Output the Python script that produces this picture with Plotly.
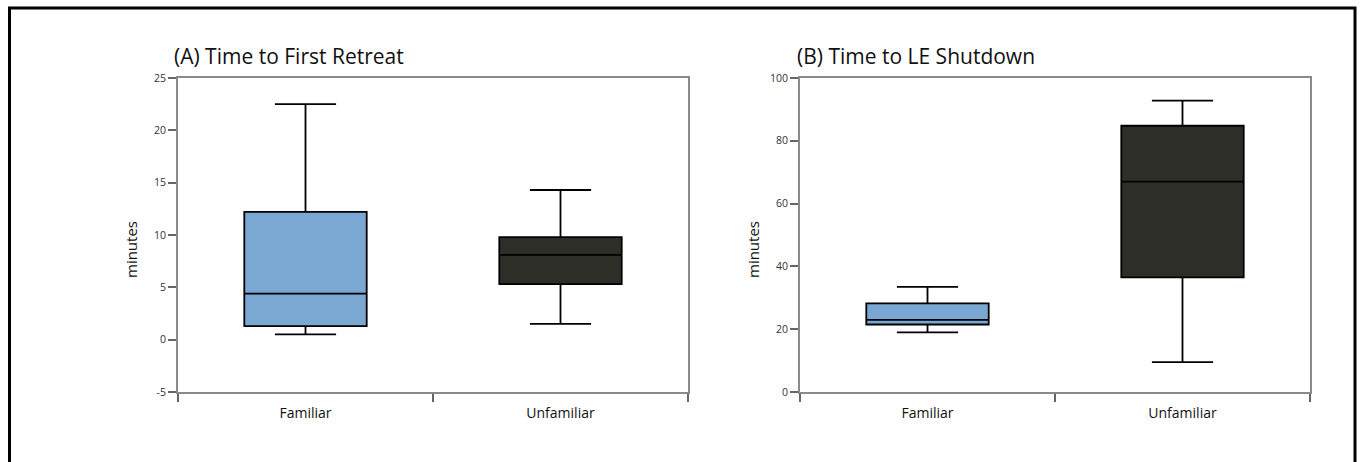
import plotly.graph_objects as go

W, H = 1362, 462

categories = ["Familiar", "Unfamiliar"]

# Panel A: Time to First Retreat (minutes)
a_lower = [0.5, 1.5]
a_q1 = [1.3, 5.3]
a_median = [4.4, 8.1]
a_q3 = [12.2, 9.8]
a_upper = [22.5, 14.3]

# Panel B: Time to LE Shutdown (minutes)
b_lower = [19.0, 9.5]
b_q1 = [21.5, 36.5]
b_median = [23.0, 67.0]
b_q3 = [28.2, 84.8]
b_upper = [33.5, 92.8]

fill_colors = ["#7BA7D3", "#2E2E29"]

a_yticks = [-5, 0, 5, 10, 15, 20, 25]
a_yticklabels = ["-5", "0", "5", "10", "15", "20", "25"]
b_yticks = [0, 20, 40, 60, 80, 100]
b_yticklabels = ["0", "20", "40", "60", "80", "100"]


def px_x(x):
    return x / W


def px_y(y):
    return 1 - y / H


fig = go.Figure()

for i, cat in enumerate(categories):
    fig.add_trace(go.Box(
        x=[cat], q1=[a_q1[i]], median=[a_median[i]], q3=[a_q3[i]],
        lowerfence=[a_lower[i]], upperfence=[a_upper[i]],
        fillcolor=fill_colors[i], line=dict(color="#000000", width=1.8),
        width=0.48, whiskerwidth=0.5, boxpoints=False, showlegend=False,
        xaxis="x", yaxis="y", hoverinfo="skip",
    ))
    fig.add_trace(go.Box(
        x=[cat], q1=[b_q1[i]], median=[b_median[i]], q3=[b_q3[i]],
        lowerfence=[b_lower[i]], upperfence=[b_upper[i]],
        fillcolor=fill_colors[i], line=dict(color="#000000", width=1.8),
        width=0.48, whiskerwidth=0.5, boxpoints=False, showlegend=False,
        xaxis="x2", yaxis="y2", hoverinfo="skip",
    ))

y_dom = [px_y(392), px_y(78)]

xaxis_common = dict(
    type="category", categoryorder="array", categoryarray=categories,
    range=[-0.5, 1.5], tickson="boundaries", ticks="outside", ticklen=8,
    tickcolor="#666666", tickwidth=1.5,
    showline=True, linecolor="#8A8A8A", linewidth=2, mirror=True,
    showgrid=False, zeroline=False, automargin=False,
    ticklabelstandoff=7,
    tickfont=dict(family="Open Sans", size=14, color="#111111"),
)
yaxis_common = dict(
    ticks="outside", ticklen=8, tickcolor="#666666", tickwidth=1.5,
    showline=True, linecolor="#8A8A8A", linewidth=2, mirror=True,
    showgrid=False, zeroline=False, automargin=False,
    tickfont=dict(family="Open Sans", size=10.5, color="#333333"),
)

fig.update_layout(
    width=W, height=H,
    margin=dict(l=0, r=0, t=0, b=0),
    paper_bgcolor="white", plot_bgcolor="white",
    xaxis=dict(domain=[px_x(178), px_x(688)], anchor="y", **xaxis_common),
    yaxis=dict(domain=y_dom, anchor="x", range=[-5, 25], tickvals=a_yticks,
               ticktext=a_yticklabels, **yaxis_common),
    xaxis2=dict(domain=[px_x(800), px_x(1310)], anchor="y2", **xaxis_common),
    yaxis2=dict(domain=y_dom, anchor="x2", range=[0, 100], tickvals=b_yticks,
                ticktext=b_yticklabels, **yaxis_common),
    shapes=[dict(
        type="rect", xref="paper", yref="paper",
        x0=px_x(9.5), x1=px_x(1355), y0=-0.2, y1=px_y(8),
        line=dict(color="black", width=3), fillcolor="rgba(0,0,0,0)",
    )],
    annotations=[
        dict(text="(A) Time to First Retreat", xref="paper", yref="paper",
             x=px_x(172), y=px_y(56), xanchor="left", yanchor="middle",
             showarrow=False, font=dict(family="Open Sans", size=21, color="#111111")),
        dict(text="(B) Time to LE Shutdown", xref="paper", yref="paper",
             x=px_x(795), y=px_y(56), xanchor="left", yanchor="middle",
             showarrow=False, font=dict(family="Open Sans", size=21, color="#111111")),
        dict(text="minutes", xref="paper", yref="paper", textangle=-90,
             x=px_x(131), y=px_y(250), xanchor="center", yanchor="middle",
             showarrow=False, font=dict(family="Open Sans", size=15, color="#111111")),
        dict(text="minutes", xref="paper", yref="paper", textangle=-90,
             x=px_x(753), y=px_y(250), xanchor="center", yanchor="middle",
             showarrow=False, font=dict(family="Open Sans", size=15, color="#111111")),
    ],
)

fig.write_html("out.html")
